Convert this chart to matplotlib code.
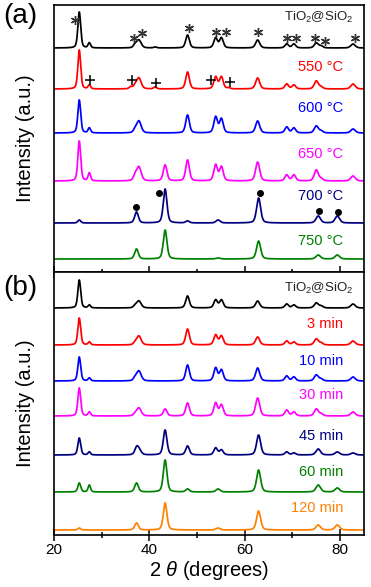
import numpy as np
import matplotlib
matplotlib.use("Agg")
import matplotlib.pyplot as plt

plt.rcParams['font.family'] = ['Liberation Sans', 'DejaVu Sans']
plt.rcParams['mathtext.fontset'] = 'custom'
plt.rcParams['mathtext.rm'] = 'Liberation Sans'
plt.rcParams['mathtext.it'] = 'Liberation Sans:italic'

peak_pos = [25.3, 27.4, 36.1, 37.0, 37.3, 37.8, 41.2, 43.3, 48.0, 53.9, 54.4,
            55.1, 56.6, 62.7, 62.9, 68.8, 70.3, 75.0, 75.4, 76.0, 79.4, 82.7]
peak_fwhm = [0.7, 0.6, 0.7, 0.8, 0.9, 1.1, 0.7, 0.9, 0.9, 0.9, 1.0,
             0.9, 0.7, 1.0, 1.0, 0.9, 0.9, 1.0, 1.1, 0.9, 1.1, 1.1]

# panel (a): calcination temperature
labels_a = ['TiO$_2$@SiO$_2$', '550 °C', '600 °C', '650 °C', '700 °C', '750 °C']
colors_a = ['black', '#ff0000', '#0000ff', '#ff00ff', '#000080', '#008000']
heights_a = [
    [36, 5, 0, 3, 0, 8, 1, 0, 13, 10, 0, 10, 0, 8, 0, 4, 4, 5, 0, 2, 0, 4],
    [39, 4, 2, 3, 0, 11, 2, 0, 17, 12, 0, 12, 1, 11, 0, 5, 4, 8, 0, 2, 0, 5],
    [33, 5, 0, 3, 0, 12, 0, 0, 18, 16, 0, 14, 0, 12, 0, 6, 5, 7, 0, 2, 0, 4],
    [40, 8, 0, 5, 0, 14, 0, 16, 21, 16, 0, 14, 0, 19, 0, 6, 6, 11, 0, 2, 0, 5],
    [3, 0, 0, 0, 11, 0, 0, 34, 2, 0, 3, 0, 0, 0, 25, 0, 0, 0, 7, 0, 7, 0],
    [0, 0, 0, 0, 10, 0, 0, 29, 0, 0, 1, 0, 0, 0, 18, 0, 0, 0, 4, 0, 4, 0],
]

# panel (b): reaction time
labels_b = ['TiO$_2$@SiO$_2$', '3 min', '10 min', '30 min', '45 min', '60 min', '120 min']
colors_b = ['black', '#ff0000', '#0000ff', '#ff00ff', '#000080', '#008000', '#ff8000']
heights_b = [
    [28, 3, 0, 2, 0, 7, 0, 0, 12, 8, 0, 8, 0, 7, 0, 4, 3, 5, 0, 2, 0, 4],
    [27, 3, 0, 2, 0, 9, 0, 0, 16, 10, 0, 9, 0, 8, 0, 4, 3, 6, 0, 2, 0, 4],
    [24, 3, 0, 3, 0, 10, 0, 0, 16, 13, 0, 11, 0, 13, 0, 5, 4, 6, 0, 2, 0, 4],
    [28, 4, 0, 2, 0, 8, 0, 7, 13, 13, 0, 11, 0, 18, 0, 6, 4, 7, 0, 2, 0, 4],
    [17, 3, 0, 0, 6, 5, 0, 25, 9, 7, 0, 5, 0, 0, 20, 3, 2, 0, 6, 0, 3, 2],
    [9, 7, 0, 0, 9, 0, 0, 32, 3, 0, 3, 0, 0, 0, 22, 0, 0, 0, 7, 0, 4, 0],
    [2, 0, 0, 0, 7, 0, 0, 27, 0, 0, 2, 0, 0, 0, 19, 0, 0, 0, 5, 0, 5, 0],
]

# phase markers in panel (a)
star_x = [24.4, 36.8, 38.5, 48.4, 53.9, 56.0, 62.8, 68.8, 70.7, 74.7, 76.8, 83.2]
star_y = [252, 234, 239, 244, 240, 240, 240, 234, 234, 234, 231, 234]
plus_x = [27.5, 36.4, 41.3, 53.0, 56.8]
plus_y = [192, 192, 189, 192, 190]
dot_x = [37.2, 42.0, 63.2, 75.6, 79.6]
dot_y = [65, 79, 79, 61, 60]

# layout
offsets_a = [224, 183, 139, 91, 49, 13]
text_y_a = [255, 205, 164, 118, 76, 31]
offsets_b = [227, 190, 154, 119, 80, 43, 5]
text_y_b = [247, 211, 174, 140, 99, 63, 27]

tt = np.linspace(20, 85, 2601)


def pattern(heights):
    y = np.zeros_like(tt)
    for c, w, h in zip(peak_pos, peak_fwhm, heights):
        if h == 0:
            continue
        g = np.exp(-4 * np.log(2) * ((tt - c) / w) ** 2)
        l = 1 / (1 + 4 * ((tt - c) / w) ** 2)
        y += h * (0.6 * g + 0.4 * l)
    return y


fig = plt.figure(figsize=(3.71, 5.87), dpi=100)
axa = fig.add_axes([54 / 371, 1 - 272 / 587, 310 / 371, 267 / 587])
axb = fig.add_axes([54 / 371, 1 - 535 / 587, 310 / 371, 263 / 587])

for ax, heights, offs, cols, labs, ty in [
        (axa, heights_a, offsets_a, colors_a, labels_a, text_y_a),
        (axb, heights_b, offsets_b, colors_b, labels_b, text_y_b)]:
    for h, o, c, lab, t in zip(heights, offs, cols, labs, ty):
        ax.plot(tt, pattern(h) + o, color=c, lw=1.25)
        if 'TiO' in lab:
            ax.text(82.7, t, lab, color='#222222', fontsize=9.5, ha='right', va='center')
        else:
            ax.text(80.6, t, lab, color=c, fontsize=10.5, ha='right', va='center')
    ax.set_xlim(20, 85)
    ax.set_yticks([])
    ax.set_xticks([20, 40, 60, 80])
    ax.set_xticks([30, 50, 70], minor=True)
    ax.tick_params(axis='x', which='major', direction='inout', length=8, width=1.1)
    ax.tick_params(axis='x', which='minor', direction='inout', length=4, width=1.1)
    for s in ax.spines.values():
        s.set_linewidth(1.2)
    ax.set_ylabel('Intensity (a.u.)', fontsize=14.5, labelpad=14)

axa.set_ylim(0, 267)
axb.set_ylim(0, 263)
axa.tick_params(axis='x', labelbottom=False)
axb.tick_params(axis='x', labelsize=11, pad=2)
axb.set_xlabel(r'2 $\it{\theta}$ (degrees)', fontsize=14.5, labelpad=1)

axa.plot(star_x, star_y, ls='none', marker=(6, 2, 0), ms=6.5, mew=1, color='#333333')
axa.plot(plus_x, plus_y, ls='none', marker='+', ms=7, mew=1.1, color='black')
axa.plot(dot_x, dot_y, ls='none', marker='o', ms=4, color='black')

fig.text(3 / 371, 1 - 16 / 587, '(a)', fontsize=20, va='center')
fig.text(3 / 371, 1 - 288 / 587, '(b)', fontsize=20, va='center')

fig.savefig('out.png', dpi=100)
